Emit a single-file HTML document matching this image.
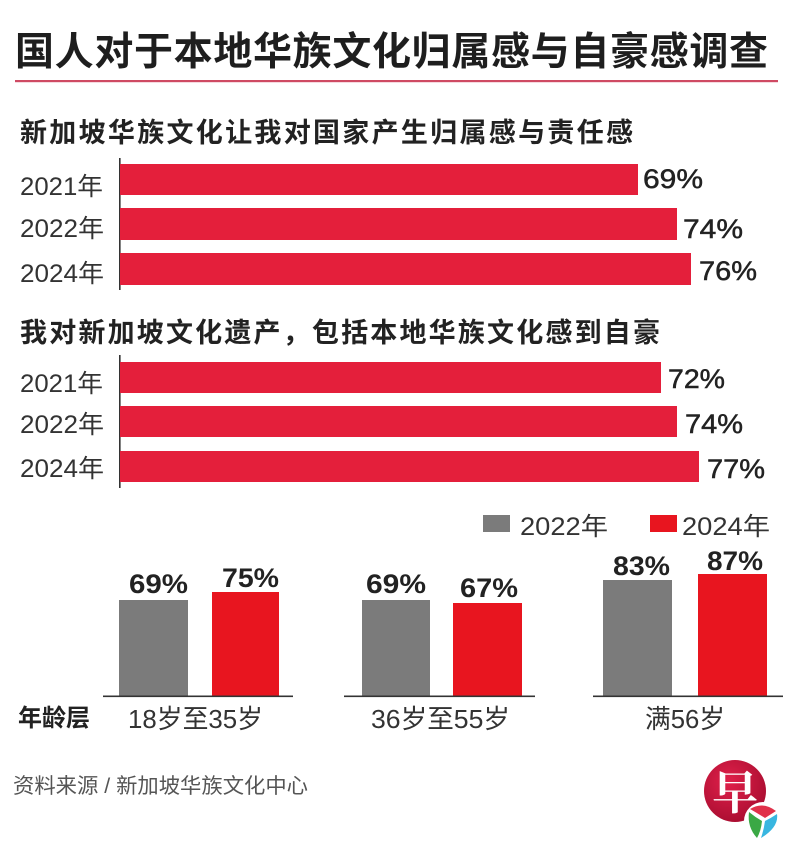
<!DOCTYPE html>
<html>
<head>
<meta charset="utf-8">
<style>
html,body{margin:0;padding:0;background:#fff;}
svg{display:block;}
text{font-family:"Liberation Sans","Noto Sans CJK SC",sans-serif;}
</style>
</head>
<body>
<svg width="800" height="859" viewBox="0 0 800 859" xmlns="http://www.w3.org/2000/svg">
<rect width="800" height="859" fill="#fff"/>

<!-- Title -->
<text x="15" y="65" font-size="39" font-weight="700" fill="#1e1e1e" textLength="753" lengthAdjust="spacing">国人对于本地华族文化归属感与自豪感调查</text>
<rect x="15" y="80" width="763" height="2.2" fill="#cf4a63"/>

<!-- Section 1 -->
<text x="20" y="142" font-size="27" font-weight="700" fill="#222" textLength="613" lengthAdjust="spacing">新加坡华族文化让我对国家产生归属感与责任感</text>
<rect x="119" y="158" width="1.6" height="132" fill="#333"/>
<rect x="120" y="164" width="518" height="31" fill="#e41f3b"/>
<rect x="120" y="208" width="557" height="32" fill="#e41f3b"/>
<rect x="120" y="253" width="571" height="32" fill="#e41f3b"/>
<g font-size="25" fill="#333">
<text x="20" y="195" textLength="83" lengthAdjust="spacingAndGlyphs">2021年</text>
<text x="20" y="237" textLength="84" lengthAdjust="spacingAndGlyphs">2022年</text>
<text x="20" y="282" textLength="84" lengthAdjust="spacingAndGlyphs">2024年</text>
</g>
<g font-size="27" fill="#222" stroke="#222" stroke-width="0.5">
<text x="643" y="188" textLength="60" lengthAdjust="spacingAndGlyphs">69%</text>
<text x="683" y="238" textLength="60" lengthAdjust="spacingAndGlyphs">74%</text>
<text x="699" y="280" textLength="58" lengthAdjust="spacingAndGlyphs">76%</text>
</g>

<!-- Section 2 -->
<text x="20" y="342" font-size="27" font-weight="700" fill="#222" textLength="640" lengthAdjust="spacing">我对新加坡文化遗产，包括本地华族文化感到自豪</text>
<rect x="119" y="355" width="1.6" height="133" fill="#333"/>
<rect x="120" y="362" width="541" height="31" fill="#e41f3b"/>
<rect x="120" y="406" width="557" height="31" fill="#e41f3b"/>
<rect x="120" y="451" width="579" height="31" fill="#e41f3b"/>
<g font-size="25" fill="#333">
<text x="20" y="392" textLength="83" lengthAdjust="spacingAndGlyphs">2021年</text>
<text x="20" y="433" textLength="84" lengthAdjust="spacingAndGlyphs">2022年</text>
<text x="20" y="477" textLength="84" lengthAdjust="spacingAndGlyphs">2024年</text>
</g>
<g font-size="27" fill="#222" stroke="#222" stroke-width="0.5">
<text x="668" y="388" textLength="57" lengthAdjust="spacingAndGlyphs">72%</text>
<text x="685" y="433" textLength="58" lengthAdjust="spacingAndGlyphs">74%</text>
<text x="707" y="478" textLength="58" lengthAdjust="spacingAndGlyphs">77%</text>
</g>

<!-- Legend -->
<rect x="483" y="515" width="27" height="17" fill="#7b7b7b"/>
<text x="520" y="535" font-size="25" fill="#333" textLength="88" lengthAdjust="spacingAndGlyphs">2022年</text>
<rect x="650" y="515" width="27" height="17" fill="#e8151f"/>
<text x="682" y="535" font-size="25" fill="#333" textLength="88" lengthAdjust="spacingAndGlyphs">2024年</text>

<!-- Column chart -->
<rect x="119" y="600" width="69" height="96" fill="#7b7b7b"/>
<rect x="212" y="592" width="67" height="104" fill="#e8151f"/>
<rect x="362" y="600" width="68" height="96" fill="#7b7b7b"/>
<rect x="453" y="603" width="69" height="93" fill="#e8151f"/>
<rect x="603" y="580" width="69" height="116" fill="#7b7b7b"/>
<rect x="698" y="574" width="69" height="122" fill="#e8151f"/>

<rect x="103" y="695.5" width="190" height="1.6" fill="#333"/>
<rect x="344" y="695.5" width="191" height="1.6" fill="#333"/>
<rect x="593" y="695.5" width="190" height="1.6" fill="#333"/>

<g font-size="27" font-weight="700" fill="#222">
<text x="129" y="593" textLength="59" lengthAdjust="spacingAndGlyphs">69%</text>
<text x="222" y="587" textLength="57" lengthAdjust="spacingAndGlyphs">75%</text>
<text x="366" y="593" textLength="60" lengthAdjust="spacingAndGlyphs">69%</text>
<text x="460" y="597" textLength="58" lengthAdjust="spacingAndGlyphs">67%</text>
<text x="613" y="575" textLength="57" lengthAdjust="spacingAndGlyphs">83%</text>
<text x="707" y="570" textLength="56" lengthAdjust="spacingAndGlyphs">87%</text>
</g>

<text x="18" y="726" font-size="24" font-weight="700" fill="#222" textLength="72" lengthAdjust="spacing">年龄层</text>
<g font-size="26" fill="#333">
<text x="128" y="728" textLength="135" lengthAdjust="spacingAndGlyphs">18岁至35岁</text>
<text x="371" y="728" textLength="139" lengthAdjust="spacingAndGlyphs">36岁至55岁</text>
<text x="645" y="728" textLength="80" lengthAdjust="spacingAndGlyphs">满56岁</text>
</g>

<!-- Footer -->
<text x="13" y="793" font-size="21" fill="#555" textLength="295" lengthAdjust="spacingAndGlyphs">资料来源 / 新加坡华族文化中心</text>

<!-- Logo -->
<defs>
<radialGradient id="lg" cx="40%" cy="35%" r="70%">
<stop offset="0" stop-color="#e0204a"/>
<stop offset="1" stop-color="#a80d30"/>
</radialGradient>
</defs>
<circle cx="735" cy="791" r="31" fill="url(#lg)"/>
<text x="735" y="809" font-size="46" font-weight="700" fill="#fff" text-anchor="middle" style="font-family:'Noto Serif CJK SC','Noto Sans CJK SC',serif">早</text>
<g transform="translate(763,821)">
<circle r="19" fill="#fff"/>
<path d="M-13,-12 Q0,-20 13,-10 L2,-3 Q-6,-8 -13,-12 Z" fill="#e0314a"/>
<path d="M-14,-9 Q-8,-4 -1,0 Q-2,10 -6,17 Q-16,6 -14,-9 Z" fill="#3aa845"/>
<path d="M14,-7 Q16,6 -2,17 Q1,8 2,0 Q8,-3 14,-7 Z" fill="#38b6e0"/>
</g>
</svg>
</body>
</html>
